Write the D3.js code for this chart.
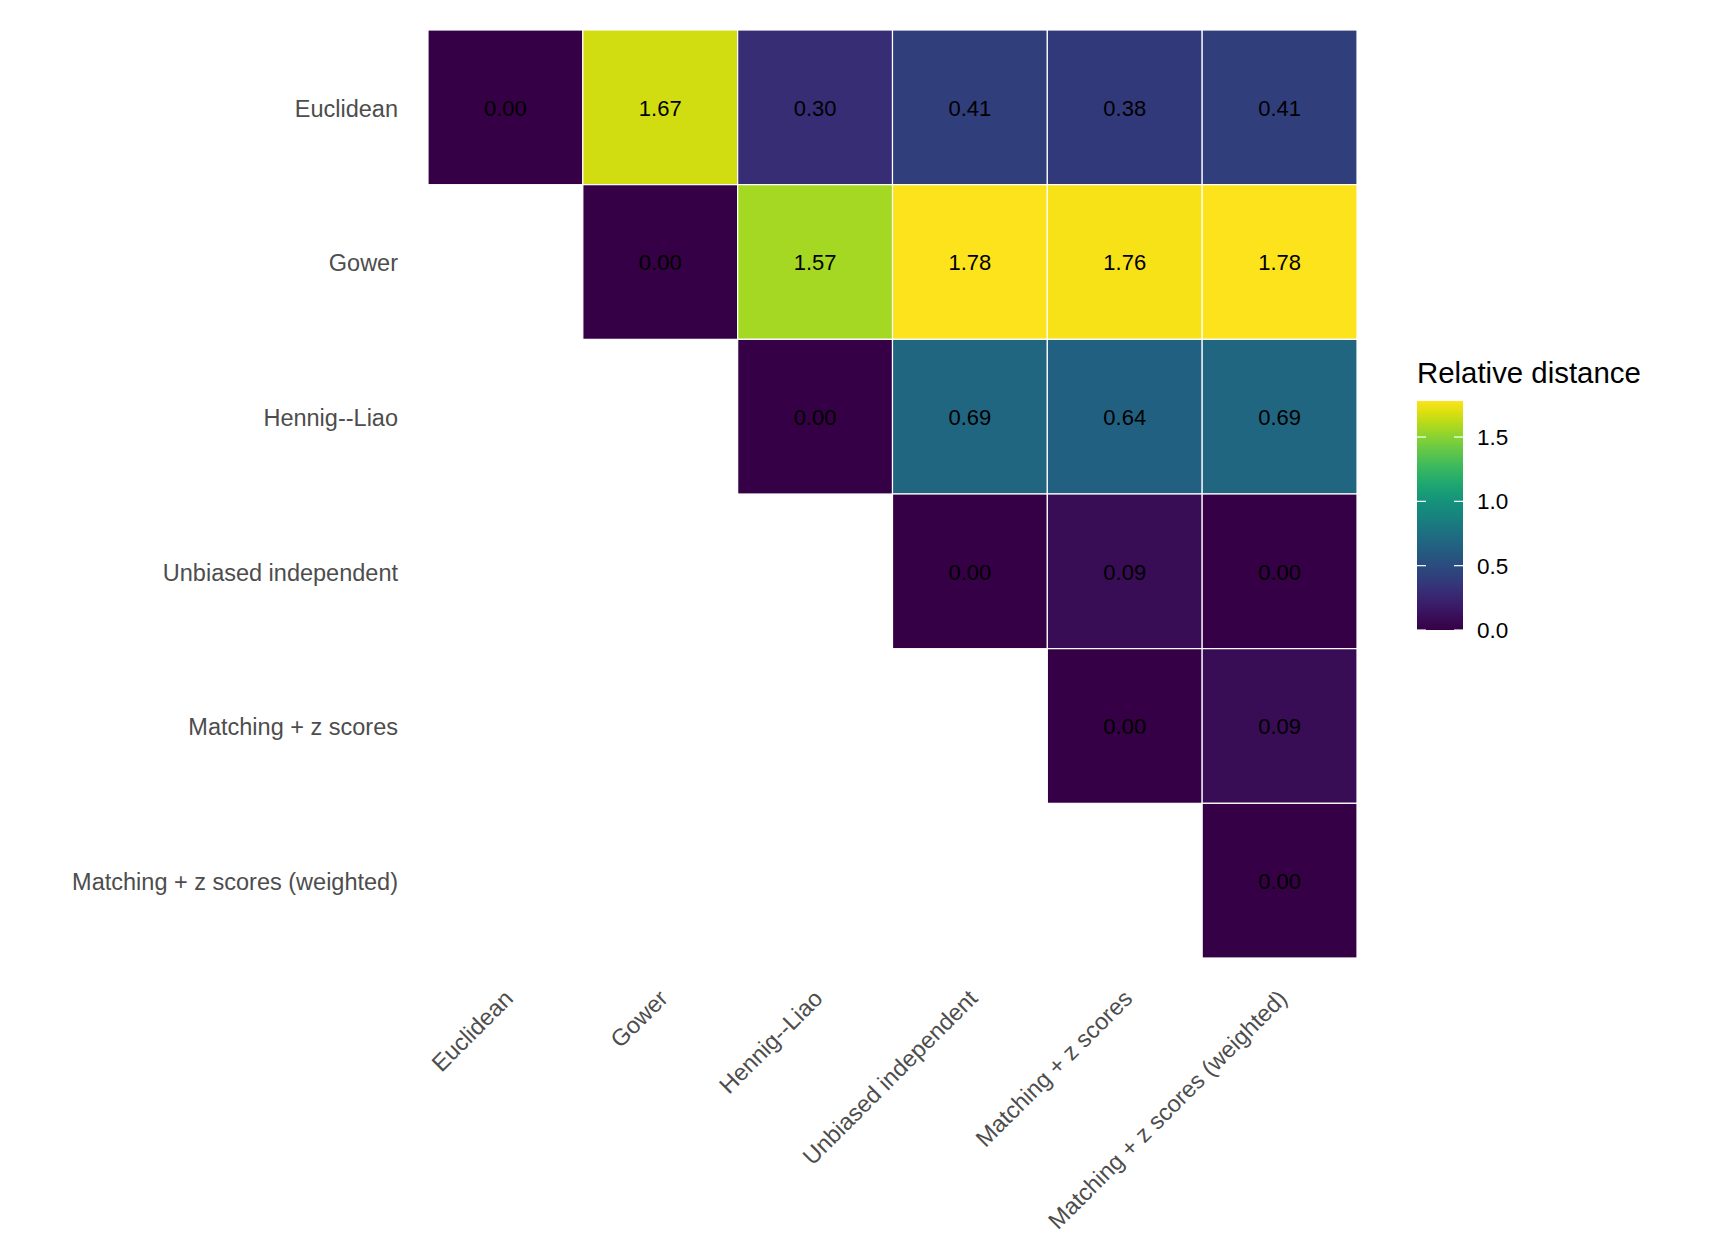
<!DOCTYPE html>
<html>
<head>
<meta charset="utf-8">
<script src="https://cdn.jsdelivr.net/npm/d3@7"></script>
<style>
  body { margin: 0; background: #fff; }
  svg text { font-family: "Liberation Sans", Arial, Helvetica, sans-serif; }
</style>
</head>
<body>
<svg id="chart" width="1728" height="1248"></svg>
<script>
// distance methods (same order on both axes)
var methods = ["Euclidean", "Gower", "Hennig--Liao", "Unbiased independent",
  "Matching + z scores", "Matching + z scores (weighted)"];

// upper triangle of the relative distance matrix, one row per method
var rowEuclidean = [0.00, 1.67, 0.30, 0.41, 0.38, 0.41];
var rowGower     = [null, 0.00, 1.57, 1.78, 1.76, 1.78];
var rowHennig    = [null, null, 0.00, 0.69, 0.64, 0.69];
var rowUnbiased  = [null, null, null, 0.00, 0.09, 0.00];
var rowMatching  = [null, null, null, null, 0.00, 0.09];
var rowWeighted  = [null, null, null, null, null, 0.00];
var legendTicks = [0.0, 0.5, 1.0, 1.5];

var rows = [rowEuclidean, rowGower, rowHennig, rowUnbiased, rowMatching, rowWeighted];

var cells = [];
rows.forEach(function(r, i) {
  r.forEach(function(v, j) {
    if (v !== null) cells.push({row: methods[i], col: methods[j], value: v});
  });
});

var svg = d3.select("#chart");
// plot panel edges (note: "top" is taken by window.top)
var pLeft = 428, pTop = 30, pRight = 1357, pBottom = 958;

// viridis, a little darker in the low end like the original render
function viridisDark(t) {
  var c = d3.rgb(d3.interpolateViridis(t));
  var g = function(v) { return 255 * Math.pow(v / 255, 1.17); };
  return d3.rgb(g(c.r), g(c.g), g(c.b)).formatHex();
}

var x = d3.scaleBand().domain(methods).range([pLeft, pRight]);
var y = d3.scaleBand().domain(methods).range([pTop, pBottom]);
var maxV = d3.max(cells, function(d) { return d.value; });
var color = d3.scaleSequential(viridisDark).domain([0, maxV]);

// tiles
svg.append("g").selectAll("rect").data(cells).enter()
  .append("rect")
  .attr("x", function(d) { return x(d.col); })
  .attr("y", function(d) { return y(d.row); })
  .attr("width", x.bandwidth())
  .attr("height", y.bandwidth())
  .attr("fill", function(d) { return color(d.value); })
  .attr("stroke", "white")
  .attr("stroke-width", 1.2);

// values on tiles
svg.append("g").selectAll("text").data(cells).enter()
  .append("text")
  .attr("x", function(d) { return x(d.col) + x.bandwidth() / 2; })
  .attr("y", function(d) { return y(d.row) + y.bandwidth() / 2; })
  .attr("dy", "0.38em")
  .attr("text-anchor", "middle")
  .attr("font-size", 22)
  .attr("fill", "black")
  .text(function(d) { return d.value.toFixed(2); });

// y axis labels
var yAxis = d3.axisLeft(y).tickSize(0).tickPadding(30);
var gy = svg.append("g").attr("transform", "translate(" + pLeft + ",0)").call(yAxis);
gy.select(".domain").remove();
gy.selectAll("text").attr("font-size", 23.5).attr("fill", "#4d4d4d")
  .attr("dy", "0.4em")
  .attr("font-family", "Liberation Sans, Arial, sans-serif");

// x axis labels, rotated 45 degrees
var gx = svg.append("g");
gx.selectAll("text").data(methods).enter()
  .append("text")
  .attr("transform", function(d) {
    return "translate(" + (x(d) + x.bandwidth() / 2 - 3) + "," + (pBottom + 30) + ") rotate(-45)";
  })
  .attr("text-anchor", "end")
  .attr("dy", "0.72em")
  .attr("font-size", 23.5)
  .attr("fill", "#4d4d4d")
  .text(function(d) { return d; });

// colour bar legend
var barX = 1417, barW = 46, barTop = 401, barBottom = 630;
var ly = d3.scaleLinear().domain([0, maxV]).range([barBottom, barTop]);

var defs = svg.append("defs");
var grad = defs.append("linearGradient").attr("id", "vir")
  .attr("x1", 0).attr("y1", 1).attr("x2", 0).attr("y2", 0);
d3.range(0, 1.0001, 0.05).forEach(function(t) {
  grad.append("stop").attr("offset", t).attr("stop-color", viridisDark(t));
});

svg.append("text")
  .attr("x", barX)
  .attr("y", 383)
  .attr("font-size", 29.4)
  .attr("fill", "black")
  .text("Relative distance");

svg.append("rect")
  .attr("x", barX).attr("y", barTop)
  .attr("width", barW).attr("height", barBottom - barTop)
  .attr("fill", "url(#vir)");

var lt = svg.append("g").selectAll("g").data(legendTicks).enter().append("g");
lt.append("line")
  .attr("x1", barX).attr("x2", barX + 9)
  .attr("y1", function(d) { return ly(d); }).attr("y2", function(d) { return ly(d); })
  .attr("stroke", "white").attr("stroke-width", 1.2);
lt.append("line")
  .attr("x1", barX + barW - 9).attr("x2", barX + barW)
  .attr("y1", function(d) { return ly(d); }).attr("y2", function(d) { return ly(d); })
  .attr("stroke", "white").attr("stroke-width", 1.2);
lt.append("text")
  .attr("x", barX + barW + 14)
  .attr("y", function(d) { return ly(d); })
  .attr("dy", "0.36em")
  .attr("font-size", 22.5)
  .attr("fill", "black")
  .text(function(d) { return d.toFixed(1); });
</script>
</body>
</html>
